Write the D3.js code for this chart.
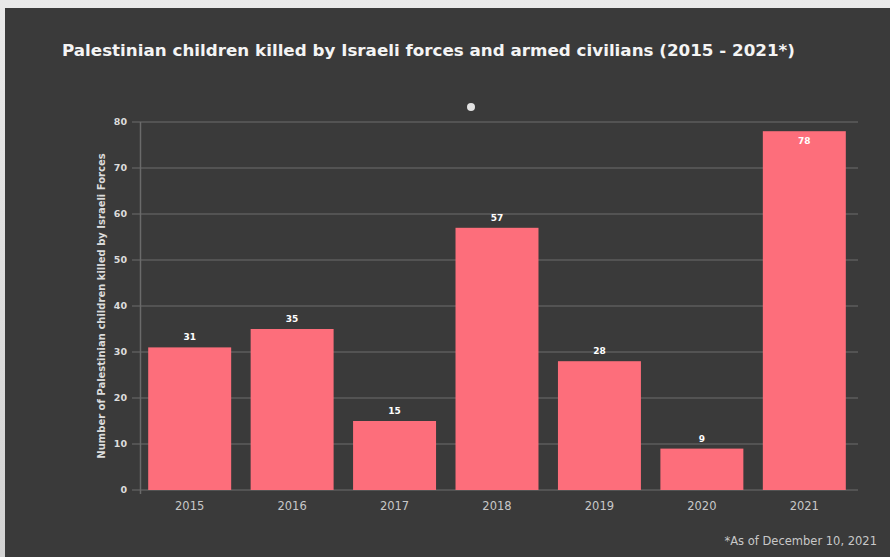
<!DOCTYPE html>
<html>
    <head>
        <title>Palestinian children killed</title>
        <script src="https://d3js.org/d3.v7.min.js"></script>
    </head>

    <body>
        <div id="root"></div>
    </body>

    <style>
body {
    margin: 0;
    background: #dcdcdc;
}
svg {
    display: block;
}
    </style>

    <script>
        let years = ['2015', '2016', '2017', '2018', '2019', '2020', '2021'];
        let killed = [31, 35, 15, 57, 28, 9, 78];
        let y_ticks = [0, 10, 20, 30, 40, 50, 60, 70, 80];

        let title = 'Palestinian children killed by Israeli forces and armed civilians (2015 - 2021*)';
        let y_title = 'Number of Palestinian children killed by Israeli Forces';
        let footnote = '*As of December 10, 2021';

        let render_chart = () => {
            let width = 890;
            let height = 557;
            let font = "'DejaVu Sans', 'Open Sans', sans-serif";

            let panel = '#3a3a3a';
            let grid = '#5c5c5c';
            let bar_color = '#fd6e7b';

            let scale_x = d3.scaleBand().domain(years).range([140, 854]).paddingInner(0.19).paddingOuter(0.08);
            let scale_y = d3.scaleLinear().domain([0, 80]).range([490, 122]);

            let svg = d3.select('#root').html('')
                .append('svg')
                .attr('width', width)
                .attr('height', height);

            // outer backdrop + dark panel
            let defs = svg.append('defs');
            let bg = defs.append('linearGradient')
                .attr('id', 'bg')
                .attr('x1', 0).attr('y1', 0).attr('x2', 0).attr('y2', 1);
            bg.append('stop').attr('offset', 0).attr('stop-color', '#e9e9e9');
            bg.append('stop').attr('offset', 1).attr('stop-color', '#d2d2d2');
            svg.append('rect')
                .attr('width', width)
                .attr('height', height)
                .attr('fill', 'url(#bg)');
            svg.append('rect')
                .attr('x', 5)
                .attr('y', 8)
                .attr('width', width - 5)
                .attr('height', height - 8)
                .attr('fill', panel);

            svg.append('text')
                .attr('x', 62)
                .attr('y', 56)
                .attr('fill', '#f4f4f4')
                .attr('font-family', font)
                .attr('font-weight', 700)
                .attr('font-size', 16)
                .attr('textLength', 733)
                .attr('lengthAdjust', 'spacingAndGlyphs')
                .text(title);

            svg.append('circle')
                .attr('cx', 471)
                .attr('cy', 107)
                .attr('r', 4)
                .attr('fill', '#e2e2e2');

            // gridlines
            svg.append('g')
                .attr('stroke', grid)
                .attr('stroke-width', 1.5)
                .selectAll('line')
                .data(y_ticks)
                .join('line')
                .attr('x1', 132)
                .attr('x2', 858)
                .attr('y1', d => scale_y(d))
                .attr('y2', d => scale_y(d));

            svg.append('line')
                .attr('x1', 140.5)
                .attr('x2', 140.5)
                .attr('y1', scale_y(80))
                .attr('y2', scale_y(0) + 4)
                .attr('stroke', '#6a6a6a')
                .attr('stroke-width', 1.5);

            // y tick labels
            svg.append('g')
                .selectAll('text')
                .data(y_ticks)
                .join('text')
                .attr('x', 127)
                .attr('y', d => scale_y(d))
                .attr('dy', '0.35em')
                .attr('text-anchor', 'end')
                .attr('fill', '#dcdcdc')
                .attr('font-family', font)
                .attr('font-weight', 700)
                .attr('font-size', 9.5)
                .text(d => d);

            svg.append('text')
                .attr('transform', `translate(105, ${(scale_y(0) + scale_y(80)) / 2}) rotate(-90)`)
                .attr('text-anchor', 'middle')
                .attr('fill', '#dcdcdc')
                .attr('font-family', font)
                .attr('font-weight', 700)
                .attr('font-size', 10)
                .text(y_title);

            // bars
            let bars = svg.append('g')
                .selectAll('g')
                .data(years.map((d, i) => ({ year: d, value: killed[i] })))
                .join('g');
            bars.append('rect')
                .attr('x', d => scale_x(d.year))
                .attr('y', d => scale_y(d.value))
                .attr('width', scale_x.bandwidth())
                .attr('height', d => scale_y(0) - scale_y(d.value))
                .attr('fill', bar_color);
            bars.append('text')
                .attr('x', d => scale_x(d.year) + scale_x.bandwidth() / 2)
                .attr('y', d => scale_y(d.value) < 150 ? scale_y(d.value) + 13 : scale_y(d.value) - 7)
                .attr('text-anchor', 'middle')
                .attr('fill', '#ffffff')
                .attr('font-family', font)
                .attr('font-weight', 700)
                .attr('font-size', 9)
                .text(d => d.value);

            // x axis labels
            svg.append('g')
                .selectAll('text')
                .data(years)
                .join('text')
                .attr('x', d => scale_x(d) + scale_x.bandwidth() / 2)
                .attr('y', 510)
                .attr('text-anchor', 'middle')
                .attr('fill', '#c8c8c8')
                .attr('font-family', font)
                .attr('font-size', 11.5)
                .text(d => d);

            svg.append('text')
                .attr('x', 877)
                .attr('y', 545)
                .attr('text-anchor', 'end')
                .attr('fill', '#c8c8c8')
                .attr('font-family', font)
                .attr('font-size', 11.5)
                .text(footnote);
        };

        render_chart();
    </script>
</html>
